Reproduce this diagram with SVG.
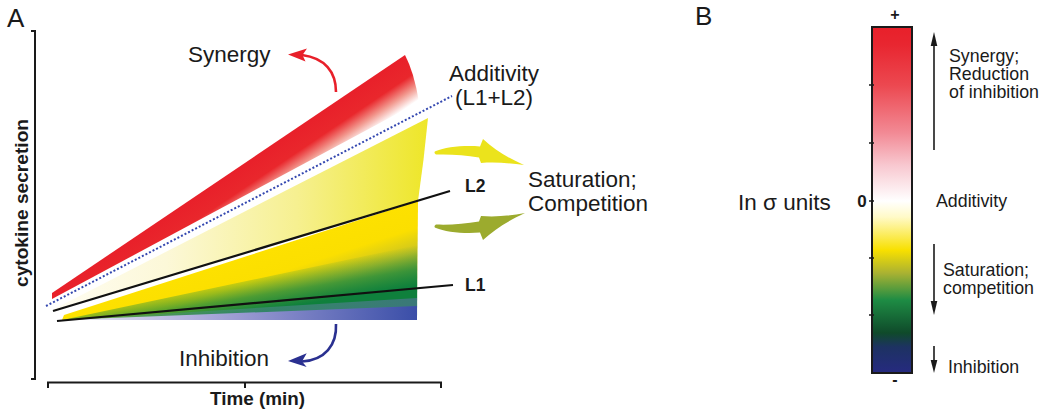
<svg xmlns="http://www.w3.org/2000/svg" width="1050" height="414" viewBox="0 0 1050 414">
<style>
text{font-family:"Liberation Sans",Arial,sans-serif;fill:#1a1a1a}
.big{font-size:22.5px}
.b{font-weight:bold}
.lbl{font-size:17.8px}
.ax{fill:none;stroke:#1a1a1a;stroke-width:2}
.ln{stroke:#111;stroke-width:2.2;fill:none}
</style>
<defs>
<linearGradient id="gRed" gradientUnits="userSpaceOnUse" x1="405" y1="55" x2="430" y2="92">
<stop offset="0" stop-color="#e8202a"/><stop offset="0.45" stop-color="#e9272c"/><stop offset="0.74" stop-color="#f29a90"/><stop offset="1" stop-color="#ffffff"/>
</linearGradient>
<linearGradient id="gPale" gradientUnits="userSpaceOnUse" x1="54" y1="0" x2="428" y2="0">
<stop offset="0" stop-color="#fffdf2"/><stop offset="0.3" stop-color="#fcf8d8"/><stop offset="0.65" stop-color="#f6f090"/><stop offset="1" stop-color="#eee628"/>
</linearGradient>
<linearGradient id="gLow" gradientUnits="userSpaceOnUse" x1="418" y1="201" x2="453" y2="308.5">
<stop offset="0" stop-color="#fde100"/><stop offset="0.22" stop-color="#fbdf00"/><stop offset="0.42" stop-color="#cac422"/><stop offset="0.6" stop-color="#84a432"/><stop offset="0.8" stop-color="#2a8a3c"/><stop offset="1" stop-color="#15803c"/>
</linearGradient>
<linearGradient id="gGreen" gradientUnits="userSpaceOnUse" x1="417" y1="245" x2="423.5" y2="284.5">
<stop offset="0" stop-color="#3a9a3c" stop-opacity="0"/><stop offset="0.6" stop-color="#1e8c3c" stop-opacity="0.75"/><stop offset="1" stop-color="#0f803c" stop-opacity="1"/>
</linearGradient>
<linearGradient id="gTeal" gradientUnits="userSpaceOnUse" x1="62" y1="0" x2="417" y2="0">
<stop offset="0" stop-color="#5a9a8a" stop-opacity="0.2"/><stop offset="1" stop-color="#3a7878"/>
</linearGradient>
<linearGradient id="gBlue" gradientUnits="userSpaceOnUse" x1="62" y1="0" x2="417" y2="0">
<stop offset="0" stop-color="#ececf8"/><stop offset="0.5" stop-color="#9a9ad2"/><stop offset="1" stop-color="#3a4ea8"/>
</linearGradient>
<linearGradient id="gBar" x1="0" y1="0" x2="0" y2="1">
<stop offset="0" stop-color="#e8202a"/><stop offset="0.05" stop-color="#e82630"/><stop offset="0.168" stop-color="#ec4850"/><stop offset="0.306" stop-color="#f28a95"/><stop offset="0.40" stop-color="#f8c8d0"/><stop offset="0.503" stop-color="#ffffff"/><stop offset="0.549" stop-color="#fffac8"/><stop offset="0.645" stop-color="#f8e000"/><stop offset="0.711" stop-color="#aab232"/><stop offset="0.789" stop-color="#1e8c44"/><stop offset="0.884" stop-color="#0f4a2a"/><stop offset="0.925" stop-color="#1d3262"/><stop offset="1" stop-color="#262a80"/>
</linearGradient>
</defs>

<g id="panel-labels">
<text x="7" y="27" style="font-size:26px">A</text>
<text x="695" y="25" style="font-size:26px">B</text>
</g>

<g id="axes">
<path class="ax" d="M31,31 H35 V379 H31"/>
<path class="ax" d="M48,388 V382.5 H441 V388 M245,382.5 V388"/>
<text class="b" transform="translate(28,203) rotate(-90)" text-anchor="middle" style="font-size:18px" textLength="168" lengthAdjust="spacingAndGlyphs">cytokine secretion</text>
<text class="b" x="210" y="405" style="font-size:18px" textLength="95" lengthAdjust="spacingAndGlyphs">Time (min)</text>
</g>

<g id="synergy-band">
<path d="M52,293 L405,55 Q414,72 419,102 L52,299 Z" fill="url(#gRed)"/>
</g>

<g id="interaction-wedge">
<path d="M54,309 L428,118 Q424,160 418,201 L53,311 Z" fill="url(#gPale)"/>
<path d="M64,315 L418,201 L417,320 L62,320 Z" fill="url(#gLow)"/>
<path d="M62,320 L417,245 L417,320 Z" fill="url(#gGreen)"/>
<path d="M62,320 L417,298 L417,320 Z" fill="url(#gTeal)"/>
<path d="M60,320 L417,306 L417,320 Z" fill="url(#gBlue)"/>
</g>

<g id="lines">
<line x1="46" y1="306" x2="452" y2="96" stroke="#3448b0" stroke-width="2" stroke-dasharray="2 2"/>
<line class="ln" x1="53" y1="311" x2="450" y2="191"/>
<line class="ln" x1="57" y1="321" x2="453" y2="285"/>
<text class="b" x="465" y="192" style="font-size:17.5px">L2</text>
<text class="b" x="465" y="291" style="font-size:17.5px">L1</text>
</g>

<g id="label-synergy">
<text class="big" x="188" y="62">Synergy</text>
</g>
<g id="label-additivity">
<text class="big" x="494" y="81" text-anchor="middle">Additivity</text>
<text class="big" x="494" y="105" text-anchor="middle">(L1+L2)</text>
</g>
<g id="label-saturation">
<text class="big" x="528" y="187">Saturation;</text>
<text class="big" x="528" y="211">Competition</text>
</g>
<g id="label-inhibition">
<text class="big" x="179" y="366">Inhibition</text>
</g>

<g id="connectors">
<path d="M336,92 C336,72 325,58 302,55" fill="none" stroke="#e8202a" stroke-width="2.6"/>
<path d="M288,54.5 L307,48.5 L302.5,55 L305.5,61.5 Z" fill="#e8202a"/>
<path d="M336,324 C337,345 325,360 302,361.5" fill="none" stroke="#2a3090" stroke-width="2.6"/>
<path d="M288,361 L306.7,353.3 L302,361.5 L306.7,367 Z" fill="#2a3090"/>
<path d="M436,151 C445,147 465,145 480,146.5 L483,139 C495,150 508,158 524,165 C510,163 495,162 481,163 L479,157.5 C465,155 450,154 436,154.5 C434,153.5 434,151.5 436,151 Z" fill="#ebe31c"/>
<path d="M436,228 C445,232 465,234 480,232.5 L483,240 C495,229 508,221 525,213 C510,216 495,217 481,216 L479,221.5 C465,224 450,225 436,224.5 C434,225.5 434,227.5 436,228 Z" fill="#9cab2e"/>
</g>

<g id="colorbar">
<rect x="872" y="27" width="40" height="346" fill="url(#gBar)" stroke="#1a1a1a" stroke-width="2"/>
<path d="M869,85 H874 M869,143 H874 M869,201 H874 M869,258 H874 M869,315 H874" stroke="#1a1a1a" stroke-width="1.5"/>
<text class="b" x="895" y="20" text-anchor="middle" style="font-size:16px">+</text>
<text class="b" x="895" y="385" text-anchor="middle" style="font-size:16px">-</text>
<text class="b" x="862" y="207" text-anchor="middle" style="font-size:17px">0</text>
<text x="738" y="210" style="font-size:22.5px">In σ units</text>
</g>

<g id="colorbar-arrows">
<line x1="934" y1="150" x2="934" y2="42" stroke="#1a1a1a" stroke-width="1.6"/>
<path d="M934,32 L937.3,46 L930.7,46 Z" fill="#1a1a1a"/>
<line x1="934" y1="244" x2="934" y2="304" stroke="#1a1a1a" stroke-width="1.6"/>
<path d="M934,315 L937.3,301 L930.7,301 Z" fill="#1a1a1a"/>
<line x1="934" y1="346" x2="934" y2="363" stroke="#1a1a1a" stroke-width="1.6"/>
<path d="M934,373 L937.3,360 L930.7,360 Z" fill="#1a1a1a"/>
</g>

<g id="colorbar-labels">
<text class="lbl" x="949" y="62">Synergy;</text>
<text class="lbl" x="949" y="80">Reduction</text>
<text class="lbl" x="949" y="98">of inhibition</text>
<text class="lbl" x="936" y="207">Additivity</text>
<text class="lbl" x="943" y="276">Saturation;</text>
<text class="lbl" x="943" y="294">competition</text>
<text class="lbl" x="948" y="373">Inhibition</text>
</g>
</svg>
